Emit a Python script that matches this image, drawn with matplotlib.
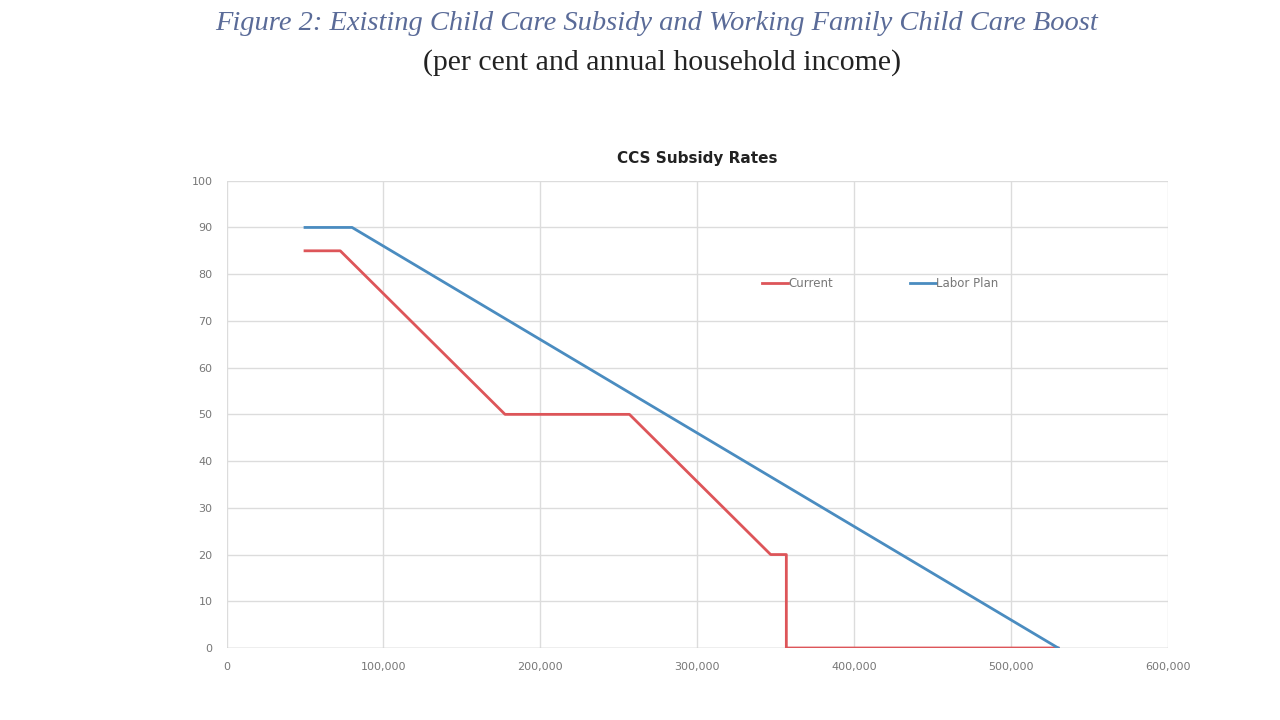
import matplotlib.pyplot as plt

# household income breakpoints and subsidy rates (per cent)
current_income = [50000, 72466, 177466, 256756, 346756, 356756, 356756, 530000]
current_rate = [85, 85, 50, 50, 20, 20, 0, 0]

labor_income = [50000, 80000, 530000]
labor_rate = [90, 90, 0]

x_ticks = [0, 100000, 200000, 300000, 400000, 500000, 600000]
y_ticks = [0, 10, 20, 30, 40, 50, 60, 70, 80, 90, 100]

fig = plt.figure(figsize=(12.8, 7.2), dpi=100)
fig.patch.set_facecolor('white')

fig.text(0.513, 0.968, 'Figure 2: Existing Child Care Subsidy and Working Family Child Care Boost',
         ha='center', va='center', fontsize=20.5, style='italic', color='#5a6b98',
         family='Liberation Serif')
fig.text(0.517, 0.913, '(per cent and annual household income)',
         ha='center', va='center', fontsize=21.5, color='#222222', family='Liberation Serif')

ax = fig.add_axes([0.177, 0.1, 0.7355, 0.649])
ax.plot(current_income, current_rate, color='#dd5559', lw=2, label='Current')
ax.plot(labor_income, labor_rate, color='#4a8cc0', lw=2, label='Labor Plan')

ax.set_xlim(0, 600000)
ax.set_ylim(0, 100)
ax.set_xticks(x_ticks)
ax.set_yticks(y_ticks)
ax.set_xticklabels([f'{v:,}' for v in x_ticks])
ax.grid(True, color='#dcdcdc', lw=1)
ax.set_axisbelow(True)
for s in ax.spines.values():
    s.set_visible(False)
ax.axhline(0, color='#c8c8c8', lw=1, zorder=1)
ax.tick_params(length=0, labelsize=8, colors='#777777', pad=10)

ax.set_title('CCS Subsidy Rates', fontsize=11, fontweight='bold', color='#222222', pad=13)

ax.legend(loc='center', bbox_to_anchor=(0.694, 0.78), ncol=2, frameon=False,
          fontsize=8.5, handlelength=2.2, handletextpad=0.0, columnspacing=6.5,
          labelcolor='#777777')

fig.savefig('out.png', dpi=100)
